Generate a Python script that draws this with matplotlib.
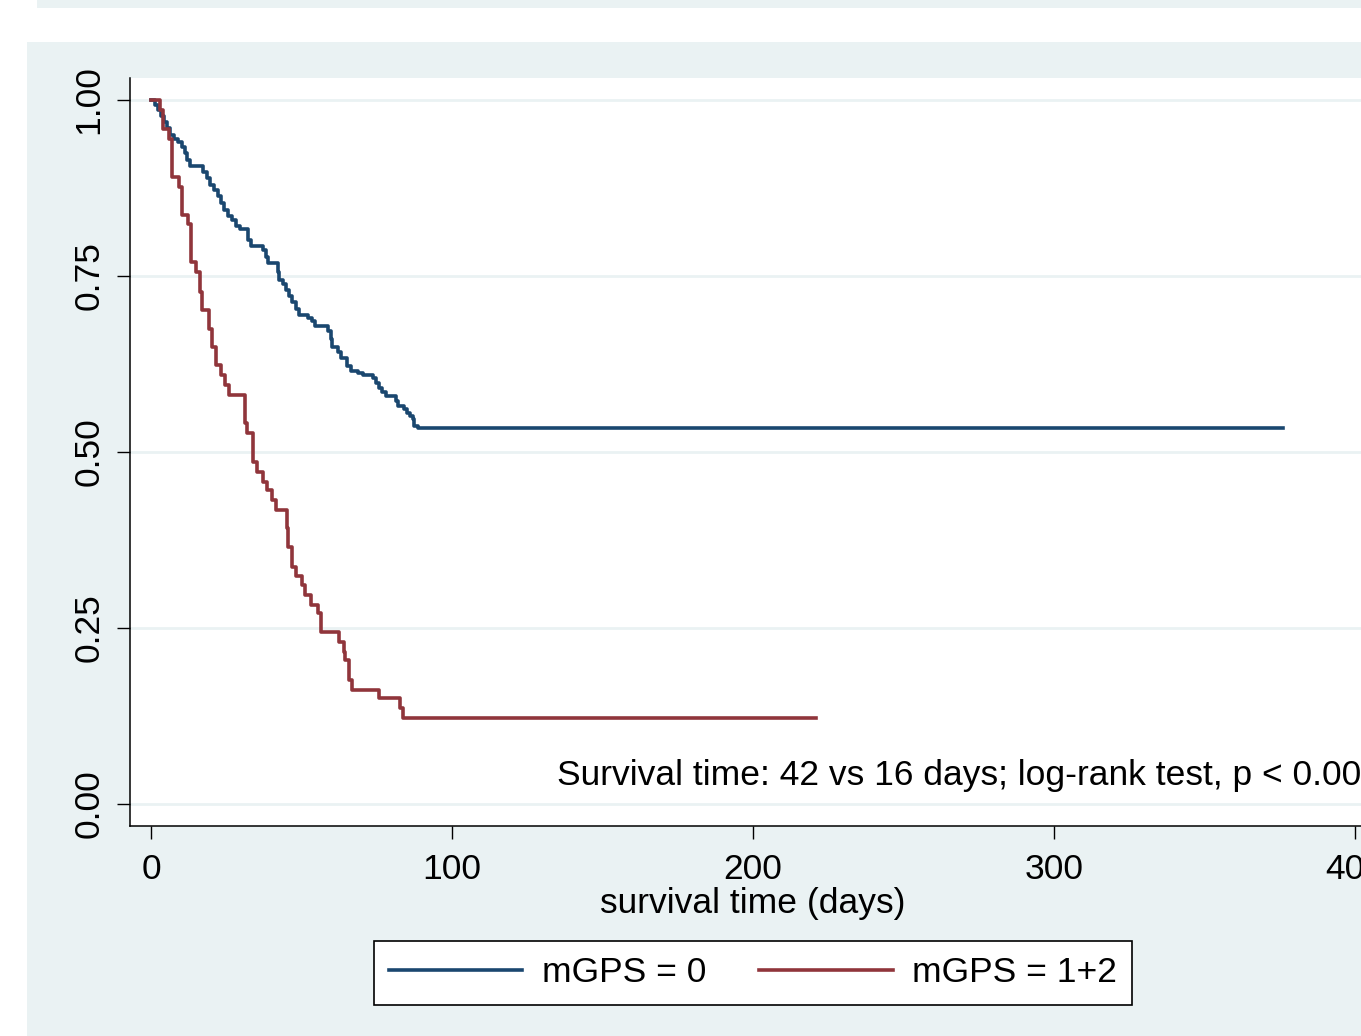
import matplotlib
matplotlib.use('Agg')
import matplotlib.pyplot as plt
from matplotlib.patches import Rectangle
from matplotlib.lines import Line2D

plt.rcParams['font.family'] = ['Liberation Sans', 'DejaVu Sans']

# Kaplan-Meier steps: time of drop (days), survival after drop
t_gps0 = [1.3, 2.3, 3.3, 4.3, 5.3, 6.3, 7.6, 9.0, 10.3, 11.3, 12.0, 13.0,
          17.3, 18.6, 19.6, 20.9, 22.3, 23.3, 24.3, 25.6, 26.9, 28.2, 29.6,
          32.2, 33.2, 37.2, 38.2, 38.9, 42.2, 42.5, 43.9, 44.9, 45.8, 46.8,
          48.2, 49.2, 52.2, 53.5, 54.5, 58.8, 59.8, 60.1, 62.1, 63.1, 65.1,
          66.4, 68.8, 70.4, 73.8, 74.8, 75.7, 76.7, 78.1, 81.4, 82.1, 84.1,
          85.0, 86.0, 87.0, 87.4, 88.7]
s_gps0 = [0.993, 0.986, 0.977, 0.969, 0.960, 0.950, 0.945, 0.940, 0.933, 0.925,
          0.915, 0.906, 0.898, 0.889, 0.879, 0.872, 0.864, 0.854, 0.844, 0.835,
          0.830, 0.821, 0.817, 0.801, 0.793, 0.787, 0.777, 0.768, 0.756, 0.744,
          0.739, 0.730, 0.722, 0.713, 0.703, 0.695, 0.690, 0.686, 0.679, 0.672,
          0.661, 0.649, 0.642, 0.634, 0.622, 0.615, 0.612, 0.609, 0.605, 0.598,
          0.591, 0.585, 0.580, 0.572, 0.565, 0.561, 0.555, 0.551, 0.547, 0.537,
          0.534]
end_gps0 = 376

t_gps12 = [3.0, 4.0, 6.0, 7.0, 9.3, 10.3, 12.3, 13.3, 15.0, 16.3, 17.0, 19.3,
           20.3, 21.6, 23.3, 24.6, 25.9, 31.2, 32.0, 33.9, 35.2, 37.2, 38.5,
           40.2, 41.5, 45.2, 45.5, 46.8, 48.2, 50.2, 51.2, 53.2, 55.5, 56.5,
           62.6, 64.0, 64.5, 65.8, 66.8, 75.8, 82.7, 83.6]
s_gps12 = [0.986, 0.959, 0.945, 0.891, 0.876, 0.836, 0.824, 0.770, 0.756, 0.727,
           0.702, 0.675, 0.649, 0.624, 0.609, 0.595, 0.581, 0.541, 0.527, 0.486,
           0.472, 0.458, 0.446, 0.432, 0.418, 0.392, 0.365, 0.337, 0.324, 0.311,
           0.297, 0.283, 0.271, 0.244, 0.230, 0.216, 0.205, 0.176, 0.162, 0.151,
           0.136, 0.122]
end_gps12 = 221

labels = ['mGPS = 0', 'mGPS = 1+2']
xticks = [0, 100, 200, 300, 400]
yticks = [0.0, 0.25, 0.5, 0.75, 1.0]
note = 'Survival time: 42 vs 16 days; log-rank test, p < 0.001'

NAVY = '#1A476F'
MAROON = '#90353B'
BG = '#EAF2F3'
FS = 25.5
LW = 2.6

W, H = 1361, 1036
fig = plt.figure(figsize=(W / 100, H / 100), dpi=100)
fig.patch.set_facecolor('white')

# graph region backgrounds (figure pixel coords)
fig.patches.append(Rectangle((27 / W, 0), 1, (H - 42) / H, transform=fig.transFigure,
                             facecolor=BG, edgecolor='none', zorder=-10))
fig.patches.append(Rectangle((37 / W, (H - 8) / H), 1, 8 / H, transform=fig.transFigure,
                             facecolor=BG, edgecolor='none', zorder=-10))

# plot region: x 0 -> 151 px, 3.01 px/day; y 1.0 -> 100 px, 0 -> 804 px
x0, x1 = -7, 407
y0, y1 = -22 / 704, 1 + 22 / 704
left = 130 / W
bottom = (H - 826) / H
ax = fig.add_axes([left, bottom, (x1 - x0) * 3.01 / W, (826 - 78) / H])
ax.set_facecolor('white')
ax.set_xlim(x0, x1)
ax.set_ylim(y0, y1)

for y in yticks:
    ax.axhline(y, color=BG, lw=2, zorder=1)

def km(ts, ss, end):
    return [0] + ts + [end], [1.0] + ss + [ss[-1]]

tx, sx = km(t_gps0, s_gps0, end_gps0)
ax.step(tx, sx, where='post', color=NAVY, lw=LW, zorder=3)
tx, sx = km(t_gps12, s_gps12, end_gps12)
ax.step(tx, sx, where='post', color=MAROON, lw=LW, zorder=3)

ax.text(134.9, 0.041, note, fontsize=FS, ha='left', va='center', color='black')

for s in ['top', 'right']:
    ax.spines[s].set_visible(False)
for s in ['left', 'bottom']:
    ax.spines[s].set_color('black')
    ax.spines[s].set_linewidth(1.1)

ax.set_xticks(xticks)
ax.set_xticklabels([str(v) for v in xticks])
ax.set_yticks(yticks)
ax.set_yticklabels(['%.2f' % v for v in yticks], rotation=90, va='center')
ax.tick_params(axis='both', length=9.5, width=1.0, labelsize=FS, color='black')
ax.tick_params(axis='x', pad=10)
ax.tick_params(axis='y', pad=8)
ax.set_xlabel('survival time (days)', fontsize=FS, labelpad=1)

handles = [Line2D([], [], color=NAVY, lw=LW), Line2D([], [], color=MAROON, lw=LW)]
leg = fig.legend(handles, labels, loc='center', bbox_to_anchor=(753 / W, 63 / H),
                 ncol=2, fontsize=FS, frameon=True, fancybox=False,
                 handlelength=3.77, handletextpad=0.55, columnspacing=1.5,
                 borderpad=0.43, borderaxespad=0)
leg.get_frame().set_edgecolor('black')
leg.get_frame().set_linewidth(1.2)
leg.get_frame().set_facecolor('white')
leg.get_frame().set_alpha(1)

fig.savefig('out.png', dpi=100, facecolor=fig.get_facecolor())
